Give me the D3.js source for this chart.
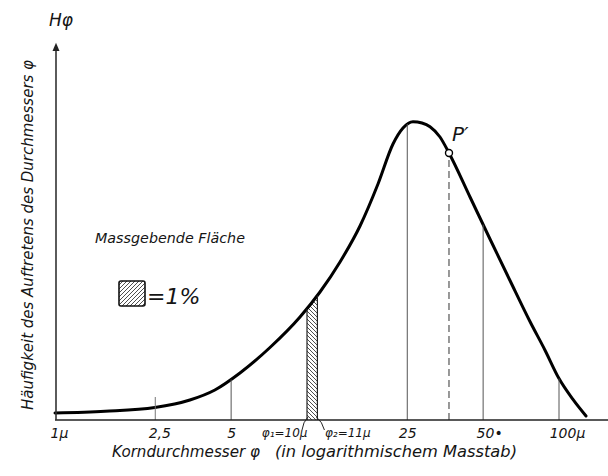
<!DOCTYPE html>
<html>
<head>
<meta charset="utf-8">
<script src="https://cdn.jsdelivr.net/npm/d3@7"></script>
<style>
  body { margin: 0; background: #fff; }
  text { font-family: "DejaVu Sans", sans-serif; font-style: italic; fill: #151515; }
</style>
</head>
<body>
<div id="chart"></div>
<script>
// 資料: 粒徑 (µ) 與出現頻率 (相對值, 峰值 = 100)
const diameters = [1, 1.58, 2.49, 3.43, 4.31, 5.42, 7.13, 9.38, 11.26, 13.52, 16.23, 19.13, 21.94, 24.04, 26.34, 28.6, 30.77, 33.71, 36.6, 44.35, 53.22, 63.9, 76.7, 88.0, 100, 113.6, 128]
const frequency = [2.35, 2.95, 4.19, 6.7, 10.06, 15.76, 24.3, 34.53, 42.91, 52.97, 65.04, 79.12, 92.52, 97.89, 100, 99.56, 98.32, 94.87, 89.51, 74.76, 60.68, 46.77, 33.02, 23.4, 13.9, 6.9, 1.34]

// x 軸刻度
const tickValues = [1, 2.5, 5, 10, 11, 25, 50, 100]
const tickLabels = ['1µ', '2,5', '5', 'φ₁=10µ', 'φ₂=11µ', '25', '50•', '100µ']

const dropLines = [5, 25, 50, 100]   // 從底線畫到曲線的細線
const shortTick = 2.5                // 只有一小段的刻度線
const band = [10, 11]                // 斜線區
const pointP = 36.6                  // P' 點

const width = 608, height = 476

const svg = d3.select('#chart')
              .append('svg')
              .attr('width', width)
              .attr('height', height)

// 斜線花紋
const defs = svg.append('defs')
defs.append('pattern')
    .attr('id', 'hatchBand')
    .attr('patternUnits', 'userSpaceOnUse')
    .attr('width', 4).attr('height', 4)
    .append('path')
    .attr('d', 'M-1,-1 L5,5 M-1,3 L1,5 M3,-1 L5,1')
    .attr('stroke', '#222').attr('stroke-width', 0.8)
defs.append('pattern')
    .attr('id', 'hatchLegend')
    .attr('patternUnits', 'userSpaceOnUse')
    .attr('width', 4).attr('height', 4)
    .append('path')
    .attr('d', 'M-1,5 L5,-1 M-1,1 L1,-1 M3,5 L5,3')
    .attr('stroke', '#222').attr('stroke-width', 0.8)

// scales
const xScale = d3.scaleLog()
                 .domain([1, 100])
                 .range([55, 559])
const yScale = d3.scaleLinear()
                 .domain([0, 100])
                 .range([420, 121.7])

const pts = diameters.map((d, i) => [d, frequency[i]])
const smooth = d3.curveMonotoneX

// 斜線區 (用 clipPath 切出 10µ ~ 11µ)
defs.append('clipPath')
    .attr('id', 'bandClip')
    .append('rect')
    .attr('x', xScale(band[0]))
    .attr('y', 0)
    .attr('width', xScale(band[1]) - xScale(band[0]))
    .attr('height', yScale(0))

const area = d3.area()
               .x(d => xScale(d[0]))
               .y0(yScale(0))
               .y1(d => yScale(d[1]))
               .curve(smooth)

svg.append('path')
   .attr('d', area(pts))
   .attr('clip-path', 'url(#bandClip)')
   .attr('fill', 'url(#hatchBand)')

// 曲線
const line = d3.line()
               .x(d => xScale(d[0]))
               .y(d => yScale(d[1]))
               .curve(smooth)

const curve = svg.append('path')
   .attr('d', line(pts))
   .attr('fill', 'none')
   .attr('stroke', '#000')
   .attr('stroke-width', 3)
   .attr('stroke-linecap', 'round')

// 找曲線在某個 x 的 y
const curveNode = curve.node()
const total = curveNode.getTotalLength()
function curveY(px) {
  let lo = 0, hi = total
  for (let k = 0; k < 40; k++) {
    const mid = (lo + hi) / 2
    if (curveNode.getPointAtLength(mid).x < px) lo = mid
    else hi = mid
  }
  return curveNode.getPointAtLength(lo).y
}

// 斜線區的邊線
band.forEach(b => {
  svg.append('line')
     .attr('x1', xScale(b)).attr('x2', xScale(b))
     .attr('y1', yScale(0)).attr('y2', curveY(xScale(b)))
     .attr('stroke', '#222').attr('stroke-width', 1.2)
})

// 細垂直線
svg.selectAll('.drop')
   .data(dropLines)
   .join('line')
   .attr('class', 'drop')
   .attr('x1', d => xScale(d)).attr('x2', d => xScale(d))
   .attr('y1', yScale(0))
   .attr('y2', d => curveY(xScale(d)))
   .attr('stroke', '#555')
   .attr('stroke-width', 1)

svg.append('line')
   .attr('x1', xScale(shortTick)).attr('x2', xScale(shortTick))
   .attr('y1', yScale(0)).attr('y2', yScale(0) - 23)
   .attr('stroke', '#777').attr('stroke-width', 1)

// P' 虛線與圓點
const pY = curveY(xScale(pointP))
svg.append('line')
   .attr('x1', xScale(pointP)).attr('x2', xScale(pointP))
   .attr('y1', yScale(0)).attr('y2', pY)
   .attr('stroke', '#333')
   .attr('stroke-width', 1)
   .attr('stroke-dasharray', '7,4')
svg.append('circle')
   .attr('cx', xScale(pointP)).attr('cy', pY)
   .attr('r', 3.5)
   .attr('fill', '#fff')
   .attr('stroke', '#000')
   .attr('stroke-width', 1.4)
svg.append('text')
   .attr('x', xScale(pointP) + 3)
   .attr('y', pY - 12)
   .attr('font-size', 20)
   .text('P′')

// x 軸
const xAxis = d3.axisBottom(xScale)
                .tickValues(tickValues)
                .tickSize(0)
                .tickPadding(8)
                .tickFormat((d, i) => tickLabels[i])
const xAxisGroup = svg.append('g')
                      .attr('transform', `translate(0,${yScale(0)})`)
                      .call(xAxis)
xAxisGroup.select('.domain').remove()
xAxisGroup.selectAll('text')
          .attr('font-family', null)
          .attr('font-size', (d, i) => i === 3 || i === 4 ? 12 : 14)
          .attr('text-anchor', (d, i) => i === 0 || i === 4 ? 'start' : i === 3 ? 'end' : 'middle')
          .attr('dx', (d, i) => [-5, 4, 0, 0, 7, 0, 6, 8][i])
          .style('fill', '#151515')
svg.append('line')
   .attr('x1', xScale(1)).attr('x2', width)
   .attr('y1', yScale(0)).attr('y2', yScale(0))
   .attr('stroke', '#222').attr('stroke-width', 1.6)

// 10µ / 11µ 標示的小弧線
svg.append('path')
   .attr('d', `M${xScale(10) - 5},${yScale(0) + 10} Q${xScale(10) - 4},${yScale(0) + 2} ${xScale(10) + 1},${yScale(0) - 3}`)
   .attr('fill', 'none').attr('stroke', '#222').attr('stroke-width', 1)
svg.append('path')
   .attr('d', `M${xScale(11) - 1},${yScale(0) - 3} Q${xScale(11) + 5},${yScale(0) + 2} ${xScale(11) + 7},${yScale(0) + 10}`)
   .attr('fill', 'none').attr('stroke', '#222').attr('stroke-width', 1)

// y 軸 (只有箭頭線)
const yTop = yScale(124)
svg.append('line')
   .attr('x1', xScale(1) + 1).attr('x2', xScale(1) + 1)
   .attr('y1', yScale(0)).attr('y2', yTop)
   .attr('stroke', '#333').attr('stroke-width', 1.6)
svg.append('path')
   .attr('d', `M${xScale(1) + 1},${yScale(126.5)} L${xScale(1) - 2.5},${yTop + 1} L${xScale(1) + 4.5},${yTop + 1} Z`)
   .attr('fill', '#222')
svg.append('text')
   .attr('x', 49).attr('y', 26)
   .attr('font-size', 17)
   .text('Hφ')

// y 軸標題
svg.append('text')
   .attr('transform', 'translate(33,235) rotate(-90)')
   .attr('text-anchor', 'middle')
   .attr('font-size', 15)
   .attr('textLength', 350)
   .attr('lengthAdjust', 'spacingAndGlyphs')
   .text('Häufigkeit des Auftretens des Durchmessers φ')

// x 軸標題
svg.append('text')
   .attr('x', 112).attr('y', 457)
   .attr('font-size', 15)
   .attr('textLength', 148)
   .attr('lengthAdjust', 'spacingAndGlyphs')
   .text('Korndurchmesser φ')
svg.append('text')
   .attr('x', 275).attr('y', 457)
   .attr('font-size', 15)
   .attr('textLength', 242)
   .attr('lengthAdjust', 'spacingAndGlyphs')
   .text('(in logarithmischem Masstab)')

// 圖例
svg.append('text')
   .attr('x', 95).attr('y', 243)
   .attr('font-size', 14)
   .attr('textLength', 150)
   .attr('lengthAdjust', 'spacingAndGlyphs')
   .text('Massgebende Fläche')
svg.append('rect')
   .attr('x', 119).attr('y', 281)
   .attr('width', 26).attr('height', 25)
   .attr('rx', 2)
   .attr('fill', 'url(#hatchLegend)')
   .attr('stroke', '#111')
   .attr('stroke-width', 1.6)
svg.append('text')
   .attr('x', 147).attr('y', 304)
   .attr('font-size', 22)
   .text('=1%')
</script>
</body>
</html>
